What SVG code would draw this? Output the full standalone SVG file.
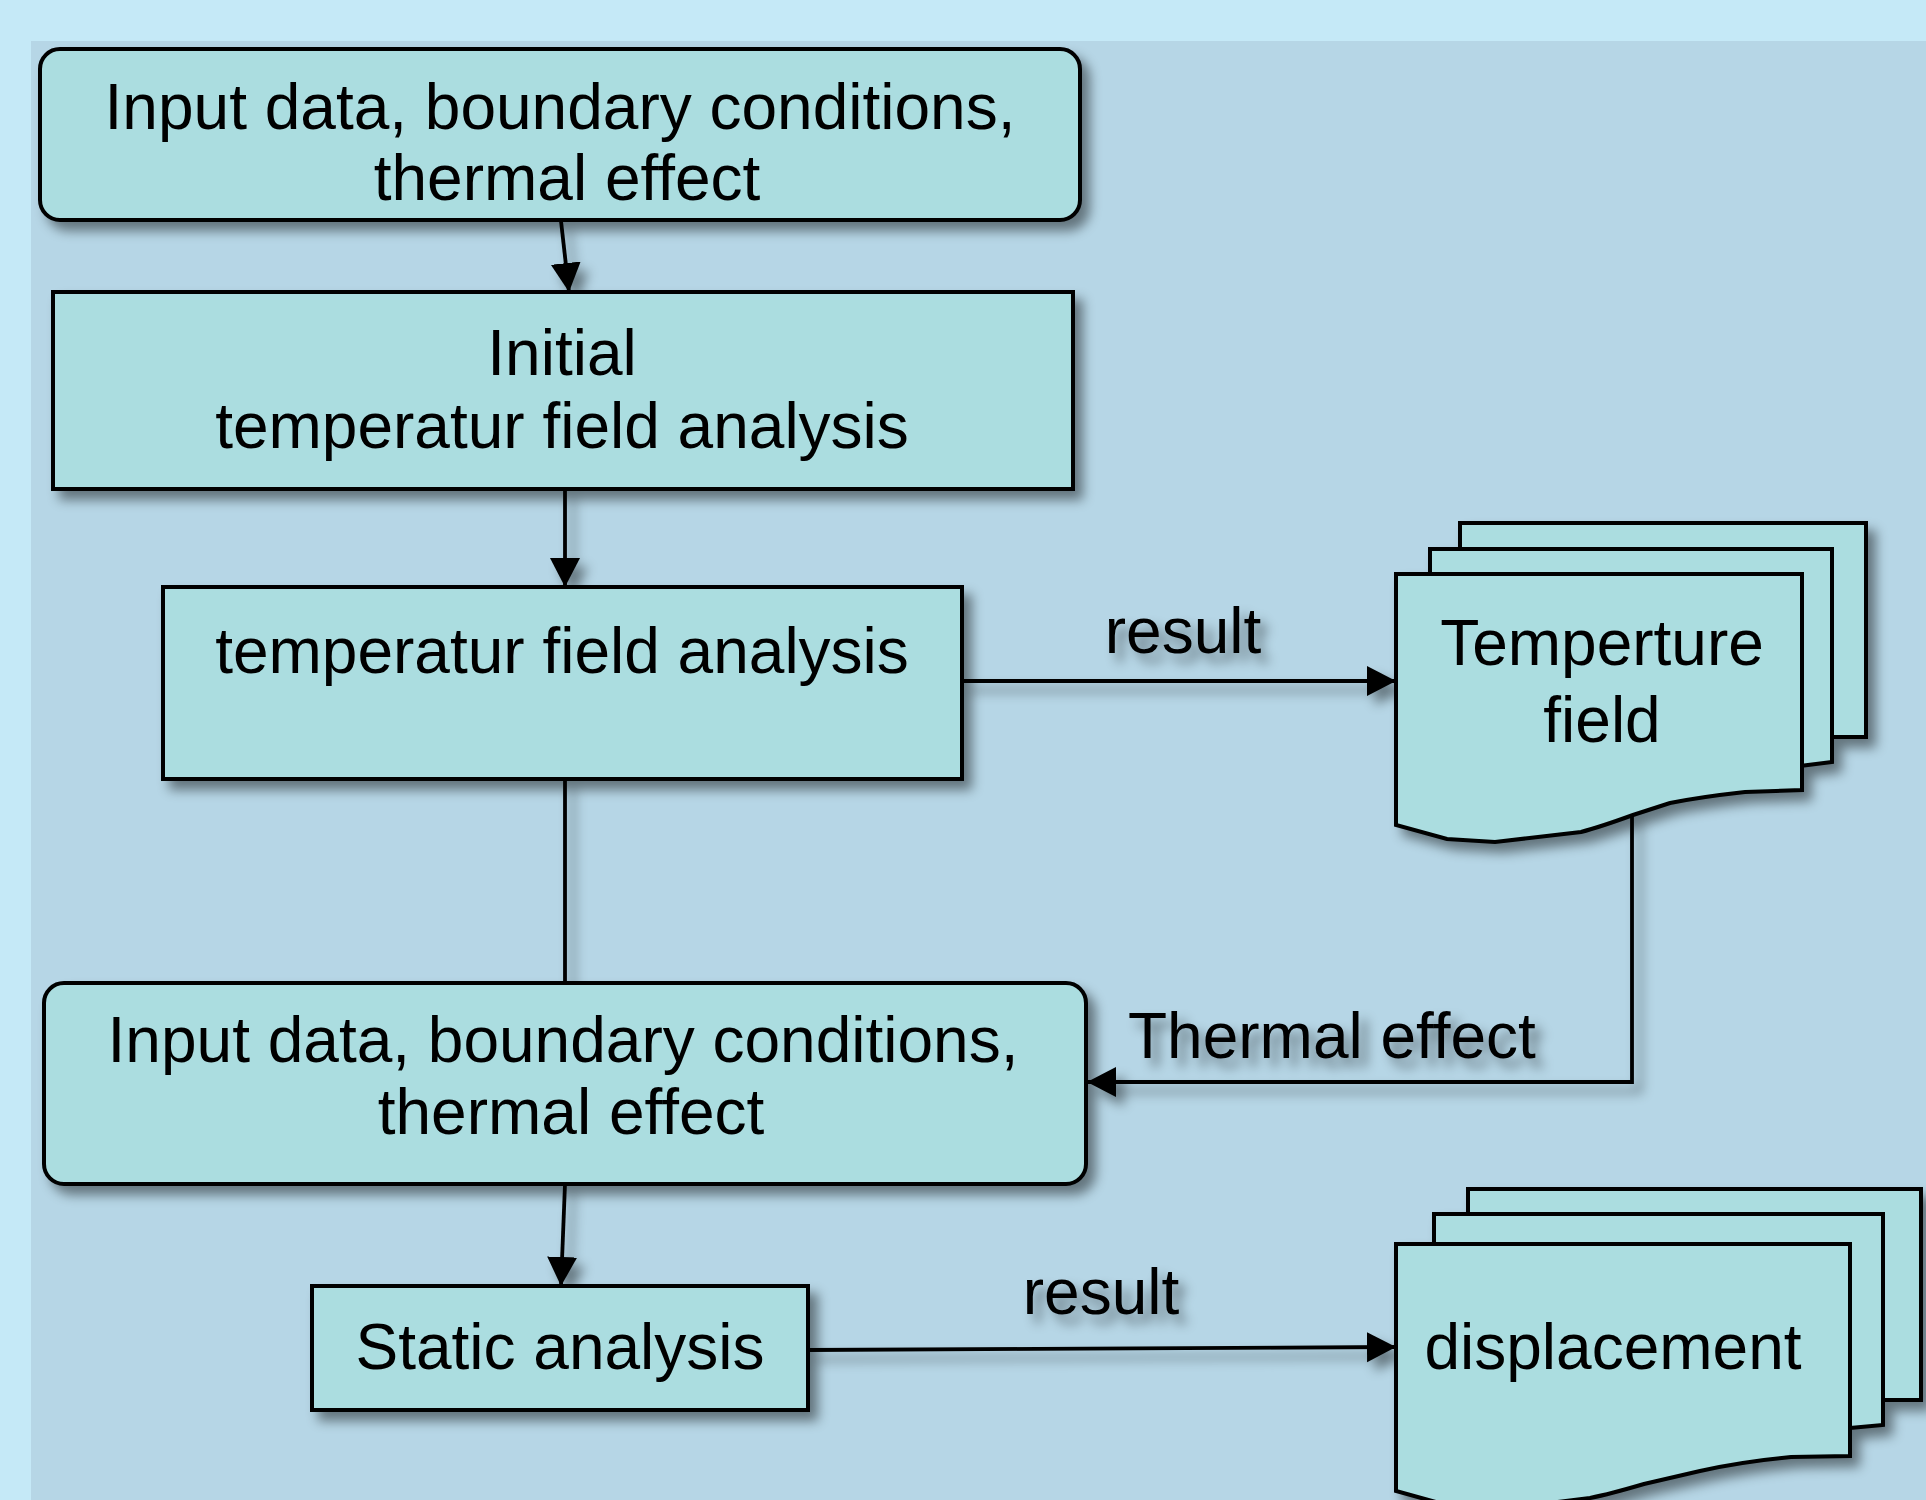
<svg xmlns="http://www.w3.org/2000/svg" width="1926" height="1500" viewBox="0 0 1926 1500">
<style>
.box{fill:#abdde0;stroke:#000;stroke-width:4}
.t{font-family:"Liberation Sans",Arial,sans-serif;font-size:64px;fill:#000;text-anchor:middle}
.lbl{font-family:"Liberation Sans",Arial,sans-serif;font-size:64px;fill:#000}
.c{fill:none;stroke:#000;stroke-width:3.8}
</style>
<defs>
<filter id="sh" x="-10%" y="-10%" width="130%" height="140%">
<feDropShadow dx="8" dy="9" stdDeviation="6" flood-color="#000" flood-opacity="0.45"/>
</filter>
<marker id="ah" markerUnits="userSpaceOnUse" markerWidth="32" markerHeight="32" refX="29" refY="15" orient="auto">
<path d="M0,0 L29,15 L0,30 z" fill="#000"/>
</marker>
</defs>
<rect x="0" y="0" width="1926" height="1500" fill="#c5e9f7"/>
<rect x="31" y="41" width="1895" height="1459" fill="#b6d6e6"/>

<g id="connectors" filter="url(#sh)">
<path class="c" d="M561,221 L569,292" marker-end="url(#ah)"/>
<path class="c" d="M565,489 L565,587" marker-end="url(#ah)"/>
<path class="c" d="M962,681 L1396,681" marker-end="url(#ah)"/>
<path class="c" d="M565,779 L565,983"/>
<path class="c" d="M1632,815 L1632,1082 L1087,1082" marker-end="url(#ah)"/>
<path class="c" d="M565,1184 L561,1286" marker-end="url(#ah)"/>
<path class="c" d="M808,1350 L1396,1347" marker-end="url(#ah)"/>
<text class="lbl" x="1183" y="653" text-anchor="middle">result</text>
<text class="lbl" x="1101" y="1314" text-anchor="middle">result</text>
<text class="lbl" x="1128" y="1058">Thermal effect</text>
</g>

<g id="n1">
<rect class="box" x="40" y="49" width="1040" height="171" rx="20" filter="url(#sh)"/>
<text class="t" x="560" y="129">Input data, boundary conditions,</text>
<text class="t" x="567" y="200">thermal effect</text>
</g>

<g id="n2">
<rect class="box" x="53" y="292" width="1020" height="197" filter="url(#sh)"/>
<text class="t" x="562" y="375">Initial</text>
<text class="t" x="562" y="448">temperatur field analysis</text>
</g>

<g id="n3">
<rect class="box" x="163" y="587" width="799" height="192" filter="url(#sh)"/>
<text class="t" x="562" y="673">temperatur field analysis</text>
</g>

<g id="n4">
<rect class="box" x="44" y="983" width="1042" height="201" rx="20" filter="url(#sh)"/>
<text class="t" x="563" y="1062">Input data, boundary conditions,</text>
<text class="t" x="571" y="1134">thermal effect</text>
</g>

<g id="n5">
<rect class="box" x="312" y="1286" width="496" height="124" filter="url(#sh)"/>
<text class="t" x="560" y="1369">Static analysis</text>
</g>

<g id="n6">
<g filter="url(#sh)">
<path class="box" d="M1460,523 H1866 V737 L1460,737 Z"/>
<path class="box" d="M1430,549 H1832 V762 L1800,766 Q1731,779 1631,804 Q1530,829 1430,800 Z"/>
<path class="box" d="M1396,574 H1802 V790 L1745,792 Q1700,797 1670,803 L1633,815 Q1600,827 1581,832 L1495,842 L1447,839 L1396,825 Z"/>
</g>
<text class="t" x="1602" y="665">Temperture</text>
<text class="t" x="1602" y="742">field</text>
</g>

<g id="n7">
<g filter="url(#sh)">
<path class="box" d="M1468,1189 H1921 V1400 L1468,1400 Z"/>
<path class="box" d="M1434,1214 H1883 V1425 L1850,1428 Q1771,1439 1658,1464 Q1546,1489 1434,1460 Z"/>
<path class="box" d="M1396,1244 H1850 V1456 L1791,1457 Q1740,1462 1700,1471 L1644,1484 Q1610,1494 1590,1498 L1494,1510 L1450,1506 L1396,1491 Z"/>
</g>
<text class="t" x="1613" y="1369">displacement</text>
</g>
</svg>
